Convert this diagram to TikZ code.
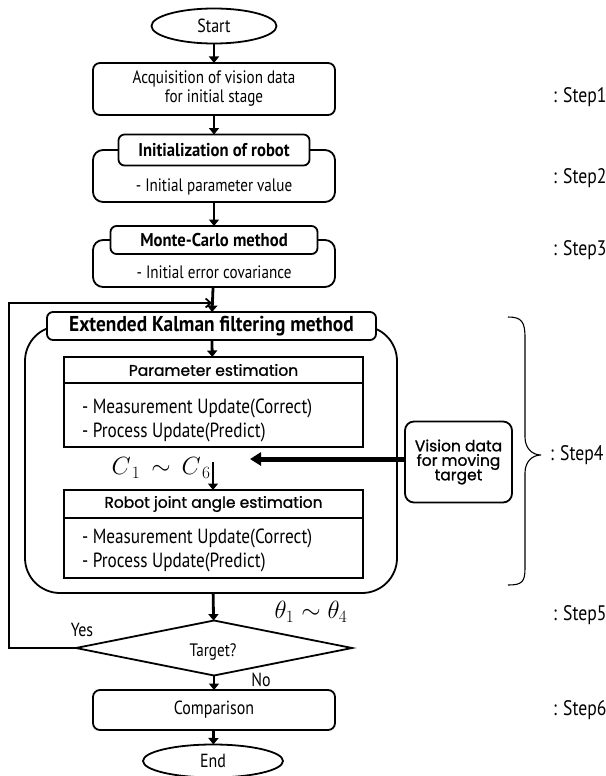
\documentclass[tikz,border=0pt]{standalone}
\usepackage{fontspec}
\usetikzlibrary{shapes.geometric,arrows.meta,calc}
\newfontfamily\mg[FakeStretch=0.84]{PT Sans}
\newfontfamily\mgb[FakeStretch=0.9]{PT Sans Bold}
\newfontfamily\hy[FakeBold=1]{Poppins}
\newcommand{\fsz}[1]{\fontsize{#1}{#1}\selectfont}

\begin{document}
\begin{tikzpicture}[x=1pt,y=-1pt,
  line width=1.8pt,
  every node/.style={inner sep=0pt, outer sep=0pt},
  arr/.style={line width=2.8pt, -{Triangle[length=6.5pt,width=10pt]}},
  term/.style={ellipse, draw, fill=white, font=\mg\fsz{19}},
  rbox/.style={rectangle, rounded corners=7pt, draw, fill=white, minimum width=242pt},
  titlebox/.style={rectangle, rounded corners=6pt, draw, fill=white, font=\mgb\fsz{18.5}},
  outerbox/.style={rectangle, rounded corners=10pt, draw, fill=white, minimum width=242pt},
  estbox/.style={rectangle, draw, fill=white, minimum width=299pt},
  esttitle/.style={font=\hy\fsz{15.5}},
  estline/.style={font=\mg\fsz{20.5}, anchor=west},
  steplabel/.style={font=\mg\fsz{21}, anchor=west},
]
\useasboundingbox (0,0) rectangle (605,776);

% --- Step 1 ---
\node[term, minimum width=125pt, minimum height=35pt] (start) at (214,26) {Start};
\node[rbox, minimum height=52pt, align=center, font=\mg\fsz{18}] (acq) at (214,89)
  {Acquisition of vision data\\[1pt]for initial stage};
\draw[arr] (start) -- (acq);

% --- Step 2 ---
\node[outerbox, minimum height=52pt, anchor=north] (init) at (214,150) {};
\node[font=\mg\fsz{18}] (initp) at (214,187) {- Initial parameter value};
\node[titlebox, minimum width=191pt, minimum height=31pt] (initt) at (214,150) {Initialization of robot};
\draw[arr] (acq) -- (initt);

% --- Step 3 ---
\node[outerbox, minimum height=47pt, anchor=north] (mc) at (214,240) {};
\node[font=\mg\fsz{18}] (mcp) at (214,272) {- Initial error covariance};
\node[titlebox, minimum width=207pt, minimum height=28pt] (mct) at (214,240) {Monte-Carlo method};
\draw[arr] (init) -- (mct);

% --- Step 4: extended Kalman filter ---
\node[rectangle, rounded corners=35pt, draw, fill=white, minimum width=372pt,
      minimum height=267pt, anchor=north] (ekf) at (211,326) {};
\node[titlebox, font=\mgb\fsz{21.5}, minimum width=329pt, minimum height=28pt]
  (ekft) at (211.5,326) {Extended Kalman filtering method};
\draw[arr] (mc) -- (ekft);

% parameter estimation block
\node[estbox, minimum height=90pt, anchor=north] (param) at (213.5,357) {};
\draw (param.west |- 0,383) -- (param.east |- 0,383);
\node[esttitle] (paramt) at (213.5,370) {Parameter estimation};
\node[estline] (pm1) at (82,408) {- Measurement Update(Correct)};
\node[estline] (pm2) at (82,432) {- Process Update(Predict)};
\draw[arr] (ekft) -- (param);

% robot joint angle estimation block
\node[estbox, minimum height=88pt, anchor=north] (robot) at (213.5,490) {};
\draw (robot.west |- 0,518) -- (robot.east |- 0,518);
\node[esttitle] (robott) at (213.5,504) {Robot joint angle estimation};
\node[estline] (rm1) at (82,538) {- Measurement Update(Correct)};
\node[estline] (rm2) at (82,562) {- Process Update(Predict)};
\draw[arr, shorten <=15pt] (param.south -| 213,0) -- (robot.north -| 213,0);
\node[font=\fsz{23}] (cc) at (161,468) {$C_{\,1}\,\sim\, C_{\,6}$};

% moving-target vision data
\node[rectangle, rounded corners=9pt, draw, fill=white, minimum width=107pt,
      minimum height=81pt, align=center, font=\hy\fsz{15.5}] (vision) at (458.5,462)
  {Vision data\\[-1pt]for moving\\[-1pt]target};
\coordinate (vin) at (250,459);
\draw[line width=5pt, -{Triangle[length=11pt,width=13pt]}] (vision.west |- vin) -- (vin);

% brace grouping step 4
\coordinate (brtop) at (508,317);
\coordinate (brtip) at (541,455);
\coordinate (brbot) at (508,585);
\draw[line width=1.1pt] (brtop) .. controls (522,317) and (525,322) .. (525,338)
  -- (525,437) .. controls (525,448) and (532,455) .. (brtip)
  .. controls (532,455) and (525,462) .. (525,473)
  -- (525,568) .. controls (525,582) and (522,585) .. (brbot);

% --- Step 5: decision ---
\node[diamond, draw, fill=white, minimum width=276pt, minimum height=55pt, aspect=5]
  (target) at (214,648) {};
\node[font=\mg\fsz{18}] (targett) at (213,652) {Target?};
\draw[arr] (ekf) -- (target);
\node[font=\fsz{24}] (theta) at (311,612) {$\theta_{1}\sim\theta_{4}$};
\node[font=\mg\fsz{19}] (yes) at (82,630) {Yes};
\node[font=\mg\fsz{19}] (no) at (261,680) {No};
\coordinate (loopa) at (9,648);
\coordinate (loopb) at (9,303);
\coordinate (loopc) at (212,303);
\draw[line width=1.8pt, -{Straight Barb[length=5pt,width=9pt]}]
  (target.west) -- (loopa) -- (loopb) -- (loopc);

% --- Step 6 ---
\node[rbox, minimum height=40pt, font=\mg\fsz{19}] (comp) at (214,710) {Comparison};
\draw[arr] (target) -- (comp);
\node[term, minimum width=140pt, minimum height=33pt] (end) at (213,761) {End};
\draw[arr] (comp) -- (end);

% step labels
\node[steplabel] (s1) at (553,97) {: Step1};
\node[steplabel] (s2) at (553,178) {: Step2};
\node[steplabel] (s3) at (553,250) {: Step3};
\node[steplabel] (s4) at (550,455) {: Step4};
\node[steplabel] (s5) at (553,615) {: Step5};
\node[steplabel] (s6) at (553,710) {: Step6};
\end{tikzpicture}
\end{document}
